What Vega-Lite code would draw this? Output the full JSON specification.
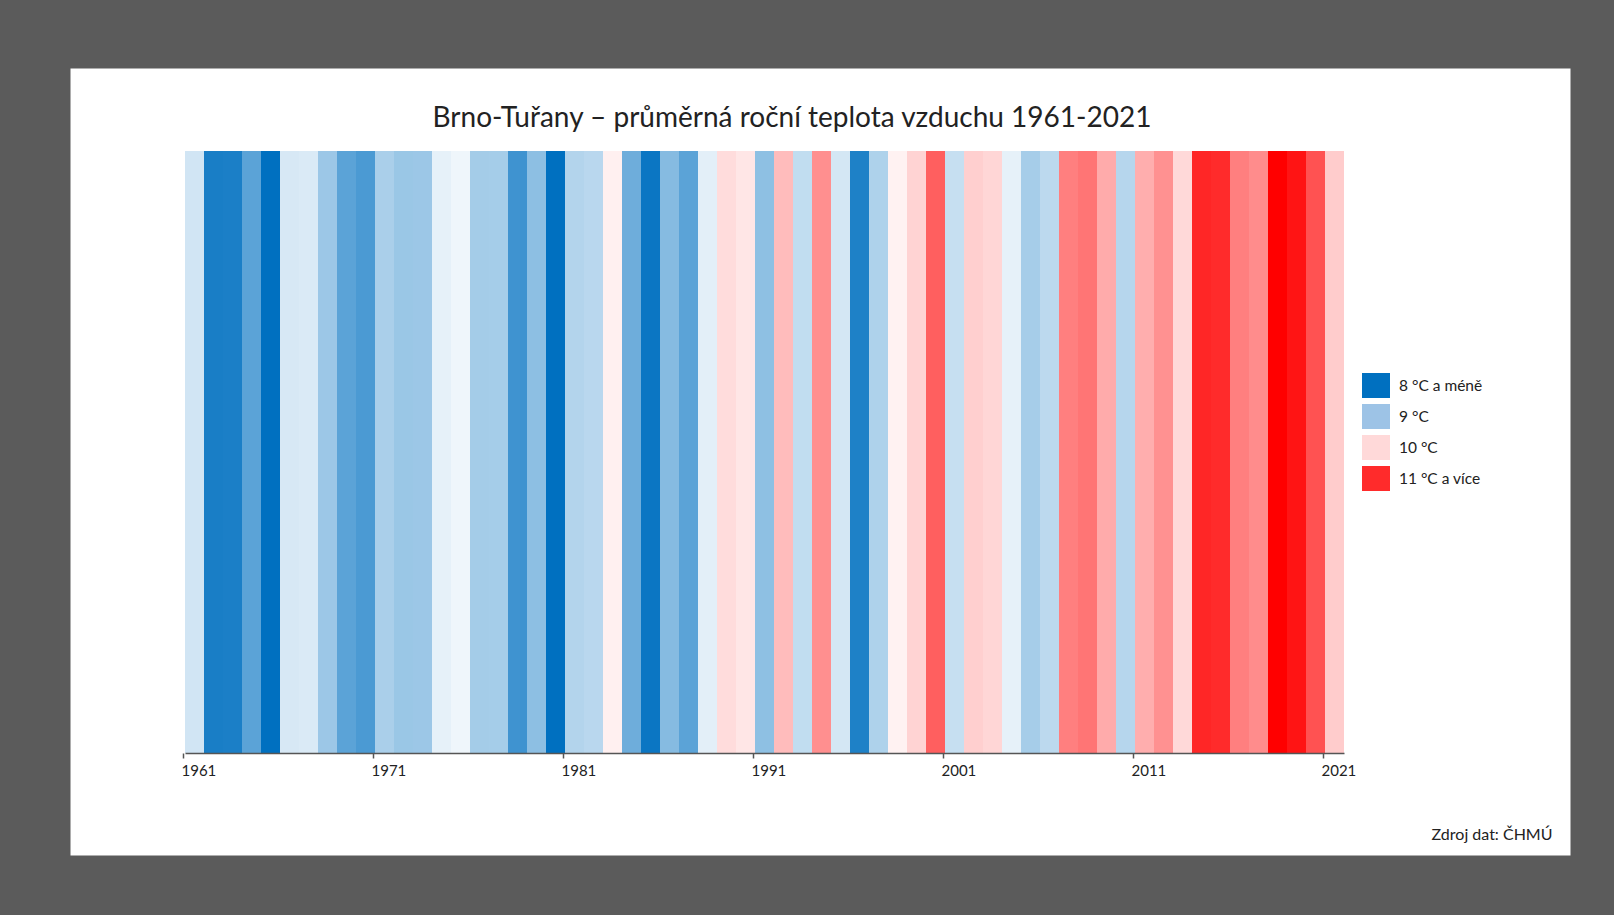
{
  "$schema": "https://vega.github.io/schema/vega-lite/v6.json",
  "width": 1500,
  "height": 787,
  "autosize": {"type": "none"},
  "padding": {"left": 70, "top": 68, "right": 44, "bottom": 60},
  "background": "#5b5b5b",
  "view": {"fill": "#ffffff", "stroke": "transparent"},
  "config": {"font": "Lato"},
  "title": {
    "text": "Brno-Tuřany – průměrná roční teplota vzduchu 1961-2021",
    "font": "Lato",
    "fontSize": 28,
    "fontWeight": "normal",
    "color": "#222222",
    "anchor": "middle",
    "frame": "group",
    "offset": -86.5,
    "dx": -28,
    "baseline": "alphabetic"
  },
  "data": {
    "values": [
      {"year": 1961, "t": 9.39}, {"year": 1962, "t": 8.17}, {"year": 1963, "t": 8.18},
      {"year": 1964, "t": 8.61}, {"year": 1965, "t": 7.9}, {"year": 1966, "t": 9.43},
      {"year": 1967, "t": 9.45}, {"year": 1968, "t": 9.04}, {"year": 1969, "t": 8.61},
      {"year": 1970, "t": 8.5}, {"year": 1971, "t": 9.13}, {"year": 1972, "t": 9.03},
      {"year": 1973, "t": 9.04}, {"year": 1974, "t": 9.53}, {"year": 1975, "t": 9.59},
      {"year": 1976, "t": 9.09}, {"year": 1977, "t": 9.1}, {"year": 1978, "t": 8.42},
      {"year": 1979, "t": 8.94}, {"year": 1980, "t": 7.6}, {"year": 1981, "t": 9.19},
      {"year": 1982, "t": 9.23}, {"year": 1983, "t": 9.79}, {"year": 1984, "t": 8.73},
      {"year": 1985, "t": 8.07}, {"year": 1986, "t": 8.89}, {"year": 1987, "t": 8.61},
      {"year": 1988, "t": 9.51}, {"year": 1989, "t": 9.91}, {"year": 1990, "t": 9.85},
      {"year": 1991, "t": 8.95}, {"year": 1992, "t": 10.11}, {"year": 1993, "t": 9.29},
      {"year": 1994, "t": 10.38}, {"year": 1995, "t": 9.41}, {"year": 1996, "t": 8.2},
      {"year": 1997, "t": 9.16}, {"year": 1998, "t": 9.78}, {"year": 1999, "t": 9.97},
      {"year": 2000, "t": 10.67}, {"year": 2001, "t": 9.32}, {"year": 2002, "t": 9.99},
      {"year": 2003, "t": 9.95}, {"year": 2004, "t": 9.53}, {"year": 2005, "t": 9.11},
      {"year": 2006, "t": 9.25}, {"year": 2007, "t": 10.48}, {"year": 2008, "t": 10.54},
      {"year": 2009, "t": 10.21}, {"year": 2010, "t": 9.21}, {"year": 2011, "t": 10.19},
      {"year": 2012, "t": 10.37}, {"year": 2013, "t": 9.93}, {"year": 2014, "t": 11.02},
      {"year": 2015, "t": 10.99}, {"year": 2016, "t": 10.48}, {"year": 2017, "t": 10.4},
      {"year": 2018, "t": 11.3}, {"year": 2019, "t": 11.13}, {"year": 2020, "t": 10.75},
      {"year": 2021, "t": 10.01}
    ]
  },
  "layer": [
    {
      "mark": {"type": "rect", "strokeWidth": 0},
      "encoding": {
        "x": {
          "field": "year",
          "type": "ordinal",
          "scale": {"type": "band", "paddingInner": 0, "paddingOuter": 0, "range": [115, 1274]},
          "axis": {
            "values": [1961, 1971, 1981, 1991, 2001, 2011, 2021],
            "bandPosition": 0,
            "domain": true,
            "domainColor": "#555555",
            "domainWidth": 1.5,
            "grid": false,
            "ticks": true,
            "tickSize": 5,
            "tickOffset": -2,
            "tickColor": "#555555",
            "tickWidth": 1.5,
            "labelAlign": "left",
            "labelOffset": -11.5,
            "labelAngle": 0,
            "labelFont": "Lato",
            "labelFontSize": 15,
            "labelColor": "#222222",
            "labelPadding": 5,
            "labelOverlap": false,
            "labelFlush": false,
            "offset": -102,
            "title": "Zdroj dat: ČHMÚ",
            "titleX": 1482,
            "titleY": 86,
            "titleAlign": "right",
            "titleBaseline": "alphabetic",
            "titleFont": "Lato",
            "titleFontWeight": "normal",
            "titleFontSize": 16,
            "titleColor": "#222222"
          }
        },
        "y": {
          "datum": 0,
          "type": "quantitative",
          "scale": {"domain": [-0.1694, 1.1379], "nice": false, "zero": false},
          "axis": null
        },
        "y2": {"datum": 1},
        "fill": {
          "field": "t",
          "type": "quantitative",
          "scale": {
            "domain": [8, 9.7, 11.25],
            "range": ["#0070c0", "#ffffff", "#ff0000"],
            "clamp": true,
            "interpolate": "rgb",
            "nice": false,
            "zero": false
          },
          "legend": null
        }
      }
    },
    {
      "data": {
        "values": [
          {"label": "8 °C a méně"},
          {"label": "9 °C"},
          {"label": "10 °C"},
          {"label": "11 °C a více"}
        ]
      },
      "mark": {"type": "square", "opacity": 0},
      "encoding": {
        "color": {
          "field": "label",
          "type": "nominal",
          "scale": {
            "domain": ["8 °C a méně", "9 °C", "10 °C", "11 °C a více"],
            "range": ["#0070c0", "#9dc3e6", "#ffd9d9", "#ff2b2b"]
          },
          "legend": {
            "orient": "none",
            "legendX": 1292,
            "legendY": 303.5,
            "title": null,
            "padding": 0,
            "symbolType": "M-1,-0.893H1V0.893H-1Z",
            "symbolSize": 784,
            "symbolStrokeWidth": 0,
            "symbolOpacity": 1,
            "labelFont": "Lato",
            "labelFontSize": 15.5,
            "labelColor": "#222222",
            "labelOffset": 9,
            "rowPadding": 4
          }
        }
      }
    }
  ]
}
